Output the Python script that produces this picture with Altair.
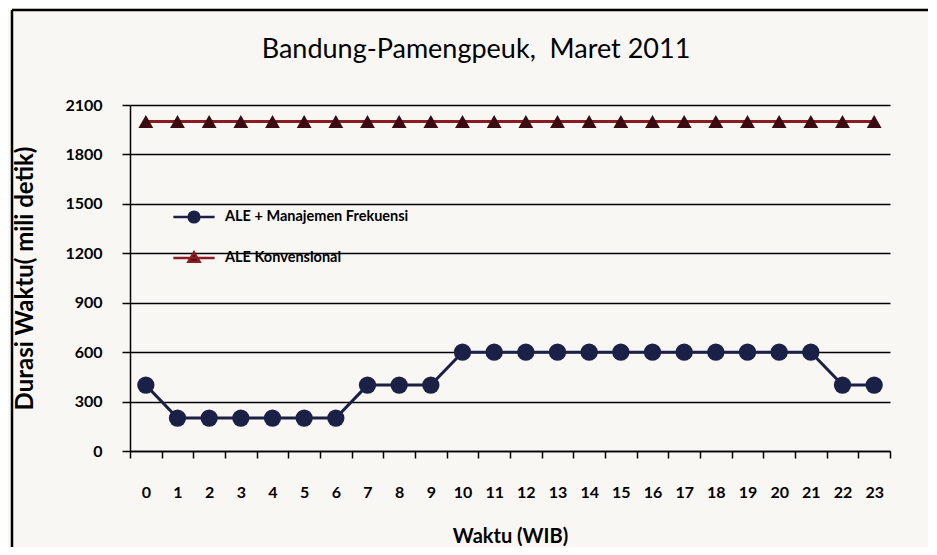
import altair as alt
import pandas as pd

# ---- data ----
hours = [0, 1, 2, 3, 4, 5, 6, 7, 8, 9, 10, 11, 12, 13, 14, 15, 16, 17, 18, 19, 20, 21, 22, 23]
ale_mf = [400, 200, 200, 200, 200, 200, 200, 400, 400, 400, 600, 600,
          600, 600, 600, 600, 600, 600, 600, 600, 600, 600, 400, 400]
ale_konv = [2000, 2000, 2000, 2000, 2000, 2000, 2000, 2000, 2000, 2000, 2000, 2000,
            2000, 2000, 2000, 2000, 2000, 2000, 2000, 2000, 2000, 2000, 2000, 2000]
series_names = ["ALE + Manajemen Frekuensi", "ALE Konvensional"]
y_ticks = [0, 300, 600, 900, 1200, 1500, 1800, 2100]

rows = []
for h, v in zip(hours, ale_mf):
    rows.append({"jam": h, "durasi": v, "seri": series_names[0]})
for h, v in zip(hours, ale_konv):
    rows.append({"jam": h, "durasi": v, "seri": series_names[1]})
df = pd.DataFrame(rows)

FONT = "Lato"
NAVY = "#1b2146"
RED = "#8a1c22"
MAROON = "#3a0c12"

x_enc = alt.X(
    "jam:O",
    sort=hours,
    bandPosition=0.5,
    scale=alt.Scale(type="band", paddingInner=0, paddingOuter=0),
    axis=alt.Axis(
        title="Waktu (WIB)",
        tickBand="extent",
        labelAngle=0,
        grid=False,
        domainColor="black",
        domainWidth=1.5,
        tickColor="black",
        tickWidth=1.5,
        tickSize=7,
        labelPadding=26,
        labelFont=FONT,
        labelFontSize=16,
        labelFontWeight="bold",
        labelColor="black",
        titleFont=FONT,
        titleFontSize=20,
        titleFontWeight="bold",
        titleColor="black",
        titlePadding=26,
    ),
)
y_enc = alt.Y(
    "durasi:Q",
    scale=alt.Scale(domain=[0, 2100], nice=False),
    axis=alt.Axis(
        title="Durasi Waktu( mili detik)",
        values=y_ticks,
        format="d",
        grid=True,
        gridColor="black",
        gridWidth=1.3,
        domainColor="black",
        domainWidth=1.5,
        tickColor="black",
        tickWidth=1.5,
        tickSize=8,
        labelPadding=20,
        labelFont=FONT,
        labelFontSize=16,
        labelFontWeight="bold",
        labelColor="black",
        titleFont=FONT,
        titleFontSize=24,
        titleFontWeight="bold",
        titleColor="black",
        titlePadding=27,
    ),
)

base = alt.Chart(df)

lines = base.mark_line(strokeWidth=3).encode(
    x=x_enc,
    y=y_enc,
    color=alt.Color("seri:N", scale=alt.Scale(domain=series_names, range=[NAVY, RED]), legend=None),
)

points = base.mark_point(filled=True, opacity=1).encode(
    x=x_enc,
    y=y_enc,
    color=alt.Color("seri:N", scale=alt.Scale(domain=series_names, range=[NAVY, MAROON]), legend=None),
    shape=alt.Shape("seri:N", scale=alt.Scale(domain=series_names, range=["circle", "triangle-up"]), legend=None),
    size=alt.Size("seri:N", scale=alt.Scale(domain=series_names, range=[300, 220]), legend=None),
)

circle_path = "M-1,0L-0.26,0M0.26,0L1,0M-0.26,0A0.26,0.26,0,1,0,0.26,0A0.26,0.26,0,1,0,-0.26,0Z"
tri_path = "M-1,0L1,0M0,-0.27L0.27,0.18L-0.27,0.18Z"

legend_spec = alt.Legend(
    title=None,
    orient="none",
    legendX=42,
    legendY=90,
    padding=0,
    rowPadding=8,
    symbolSize=1700,
    symbolStrokeWidth=2.5,
    labelFont=FONT,
    labelFontSize=14.5,
    labelFontWeight="bold",
    labelColor="black",
    labelOffset=9,
    labelLimit=400,
)
legend_layer = base.transform_filter("false").mark_point(size=1700, strokeWidth=2.5, opacity=1).encode(
    x=x_enc,
    y=y_enc,
    fill=alt.Fill("seri:N", scale=alt.Scale(domain=series_names, range=[NAVY, MAROON]), legend=legend_spec),
    stroke=alt.Stroke("seri:N", scale=alt.Scale(domain=series_names, range=[NAVY, RED]), legend=legend_spec),
    shape=alt.Shape("seri:N", scale=alt.Scale(domain=series_names, range=[circle_path, tri_path]), legend=legend_spec),
)

frame_data = alt.Data(values=[{"k": 0}])
frame_left = alt.Chart(frame_data).mark_rule(color="black", strokeWidth=2.5).encode(
    x=alt.value(-118), y=alt.value(-95), y2=alt.value(445)
)
frame_top = alt.Chart(frame_data).mark_rule(color="black", strokeWidth=2.5).encode(
    x=alt.value(-118), x2=alt.value(810), y=alt.value(-95)
)

chart = alt.layer(frame_left, frame_top, lines, points, legend_layer).resolve_scale(
    color="independent", shape="independent", size="independent", fill="independent", stroke="independent"
).properties(
    width=760,
    height=346,
    padding={"left": 122, "top": 97, "right": 38, "bottom": 96},
    autosize=alt.AutoSizeParams(type="none"),
    background="#f8f7f4",
    title=alt.Title(
        "Bandung-Pamengpeuk,\u00a0\u00a0Maret 2011",
        font=FONT,
        fontSize=27,
        fontWeight="normal",
        color="black",
        anchor="middle",
        frame="group",
        dx=-34,
        dy=55,
        offset=0,
    ),
).configure_view(stroke=None)

chart.save("out.html", embed_options={"renderer": "svg", "actions": False})
